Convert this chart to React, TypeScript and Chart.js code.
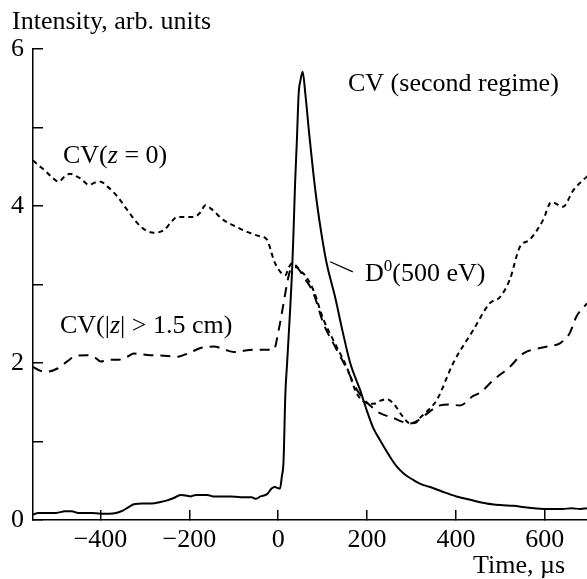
import React, { useEffect, useRef } from "react";
import { Chart, registerables } from "chart.js";

Chart.register(...registerables);

// ---------- data ----------
const d0Time = [
  -552, -540, -500, -480, -465, -450, -420, -400, -380, -365, -350, -335, -325, -305, -285, -265,
  -250, -235, -220, -205, -198, -185, -160, -146, -120, -108, -85, -60, -50, -40, -25, -15, -8, 4,
  8, 12, 16, 20, 26, 31, 34, 38, 42, 46, 50, 55, 61, 70, 79, 88, 98, 109, 128, 145, 162, 184, 199,
  214, 229, 250, 267, 285, 304, 320, 342, 370, 401, 430, 469, 500, 529, 560, 604, 640, 660, 680, 695,
];
const d0Value = [
  0.07, 0.09, 0.09, 0.11, 0.11, 0.09, 0.09, 0.08, 0.08, 0.09, 0.12, 0.17, 0.2, 0.21, 0.21, 0.23,
  0.25, 0.28, 0.32, 0.31, 0.3, 0.32, 0.32, 0.3, 0.3, 0.3, 0.29, 0.29, 0.27, 0.3, 0.33, 0.4, 0.42, 0.4,
  0.55, 0.76, 1.6, 2.0, 2.6, 3.15, 3.6, 4.3, 4.84, 5.43, 5.6, 5.71, 5.43, 4.9, 4.42, 4.0, 3.62, 3.27, 2.84, 2.4, 2.0, 1.66, 1.4,
  1.17, 1.02, 0.82, 0.68, 0.58, 0.51, 0.46, 0.42, 0.36, 0.3, 0.26, 0.21, 0.19, 0.18, 0.16, 0.14, 0.14, 0.15, 0.14, 0.15,
];

const cvCenterTime = [
  -552, -540, -527, -510, -494, -480, -468, -455, -445, -426, -412, -400, -385, -362, -340, -320,
  -310, -295, -280, -258, -240, -228, -210, -190, -175, -164, -150, -123, -100, -70, -45, -25, -15,
  -10, 0, 10, 16, 24, 31, 40, 49, 60, 79, 102, 124, 154, 177, 199, 215, 230, 244, 260, 280, 297,
  310, 319, 334, 357, 394, 439, 476, 499, 521, 544, 566, 596, 615, 641, 664, 686, 700,
];
const cvCenterValue = [
  4.58, 4.52, 4.46, 4.37, 4.31, 4.38, 4.41, 4.38, 4.35, 4.27, 4.3, 4.31, 4.25, 4.12, 3.95, 3.8,
  3.74, 3.68, 3.66, 3.69, 3.8, 3.86, 3.86, 3.86, 3.92, 4.01, 3.96, 3.82, 3.75, 3.67, 3.62, 3.57, 3.4,
  3.31, 3.2, 3.13, 3.12, 3.22, 3.27, 3.24, 3.18, 3.12, 2.93, 2.55, 2.29, 1.95, 1.61, 1.49, 1.48, 1.52, 1.54, 1.48, 1.32, 1.23,
  1.24, 1.3, 1.38, 1.53, 2.0, 2.42, 2.76, 2.84, 3.06, 3.48, 3.57, 3.82, 4.05, 3.99, 4.2, 4.33, 4.4,
];

const cvOuterTime = [
  -552, -535, -520, -497, -475, -460, -430, -410, -400, -380, -362, -340, -325, -288, -250, -228,
  -200, -175, -145, -120, -100, -55, -10, 1, 12, 23, 31, 40, 57, 79, 102, 124, 154, 177, 199, 215,
  229, 259, 280, 297, 315, 327, 345, 364, 385, 409, 439, 454, 484, 521, 551, 589, 615, 634, 656, 671, 695,
];
const cvOuterValue = [
  1.95, 1.9, 1.89, 1.93, 2.02, 2.08, 2.1, 2.06, 2.02, 2.04, 2.04, 2.08, 2.12, 2.1, 2.09, 2.08,
  2.13, 2.19, 2.21, 2.17, 2.14, 2.17, 2.17, 2.42, 2.76, 3.1, 3.22, 3.22, 3.1, 2.89, 2.5, 2.25, 1.93, 1.66, 1.5, 1.42,
  1.36, 1.3, 1.25, 1.23, 1.27, 1.32, 1.4, 1.46, 1.47, 1.46, 1.58, 1.62, 1.78, 1.95, 2.12, 2.19, 2.22, 2.25, 2.38, 2.59, 2.76,
];

const xTickValues = [-400, -200, 0, 200, 400, 600];
const yTickValues = [0, 1, 2, 3, 4, 5, 6];
const yLabelledTicks = [0, 2, 4, 6];

const X_MIN = -552;
const X_MAX = 695;
const Y_MIN = 0;
const Y_MAX = 6;

// leader line of the D0 label, in data units
const leaderFrom = { x: 117, y: 3.29 };
const leaderTo = { x: 168, y: 3.16 };

const FONT = "'Liberation Serif', 'Times New Roman', Times, serif";
const FONT_SIZE = 26;

type Part = { t: string; italic?: boolean; sup?: boolean };
type Label = { x: number; y: number; parts: Part[] };

const textLabels: Label[] = [
  { x: 12, y: 29, parts: [{ t: "Intensity, arb. units" }] },
  { x: 348, y: 91, parts: [{ t: "CV (second regime)" }] },
  { x: 63, y: 163, parts: [{ t: "CV(" }, { t: "z", italic: true }, { t: " = 0)" }] },
  { x: 60, y: 333, parts: [{ t: "CV(|" }, { t: "z", italic: true }, { t: "| > 1.5 cm)" }] },
  { x: 365, y: 281, parts: [{ t: "D" }, { t: "0", sup: true }, { t: "(500 eV)" }] },
  { x: 473, y: 573, parts: [{ t: "Time, \u00b5s" }] },
];

function drawParts(ctx: CanvasRenderingContext2D, x: number, y: number, parts: Part[]) {
  let cx = x;
  for (const p of parts) {
    const fs = p.sup ? Math.round(FONT_SIZE * 0.66) : FONT_SIZE;
    ctx.font = `${p.italic ? "italic " : ""}${fs}px ${FONT}`;
    ctx.fillText(p.t, cx, p.sup ? y - FONT_SIZE * 0.4 : y);
    cx += ctx.measureText(p.t).width;
  }
}

const annotationPlugin = {
  id: "annotations",
  afterDraw(chart: any) {
    const ctx: CanvasRenderingContext2D = chart.ctx;
    const xs = chart.scales.x;
    const ys = chart.scales.y;
    ctx.save();
    ctx.strokeStyle = "#000";
    ctx.lineWidth = 1.3;
    ctx.beginPath();
    ctx.moveTo(xs.getPixelForValue(leaderFrom.x), ys.getPixelForValue(leaderFrom.y));
    ctx.lineTo(xs.getPixelForValue(leaderTo.x), ys.getPixelForValue(leaderTo.y));
    ctx.stroke();
    ctx.fillStyle = "#000";
    ctx.textAlign = "left";
    ctx.textBaseline = "alphabetic";
    for (const l of textLabels) drawParts(ctx, l.x, l.y, l.parts);
    ctx.restore();
  },
};

const toPoints = (t: number[], v: number[]) => t.map((x, i) => ({ x, y: v[i] }));

export default function App() {
  const canvasRef = useRef<HTMLCanvasElement | null>(null);

  useEffect(() => {
    if (!canvasRef.current) return;
    const chart = new Chart(canvasRef.current, {
      type: "line",
      data: {
        datasets: [
          {
            label: "D0(500 eV)",
            data: toPoints(d0Time, d0Value),
            borderColor: "#000",
            borderWidth: 2,
            pointRadius: 0,
            cubicInterpolationMode: "monotone",
            fill: false,
          },
          {
            label: "CV(z = 0)",
            data: toPoints(cvCenterTime, cvCenterValue),
            borderColor: "#000",
            borderWidth: 2,
            borderDash: [5, 4],
            pointRadius: 0,
            cubicInterpolationMode: "monotone",
            fill: false,
          },
          {
            label: "CV(|z| > 1.5 cm)",
            data: toPoints(cvOuterTime, cvOuterValue),
            borderColor: "#000",
            borderWidth: 2,
            borderDash: [10, 7],
            pointRadius: 0,
            cubicInterpolationMode: "monotone",
            fill: false,
          },
        ],
      },
      options: {
        animation: false,
        responsive: true,
        maintainAspectRatio: false,
        layout: { padding: { top: 49, right: 0, left: 0, bottom: 0 } },
        plugins: { legend: { display: false }, tooltip: { enabled: false } },
        scales: {
          x: {
            type: "linear",
            min: X_MIN,
            max: X_MAX,
            afterBuildTicks: (s: any) => {
              s.ticks = xTickValues.map((value) => ({ value }));
            },
            afterFit: (s: any) => {
              s.height = 59;
            },
            border: { display: true, color: "#000", width: 1.5 },
            grid: { drawOnChartArea: false, drawTicks: true, tickLength: -10, color: "#000", lineWidth: 1.5 },
            ticks: {
              color: "#000",
              font: { family: FONT, size: FONT_SIZE },
              padding: 15,
              maxRotation: 0,
              autoSkip: false,
              callback: (v: any) => (Number(v) < 0 ? "\u2212" + Math.abs(Number(v)) : String(v)),
            },
          },
          y: {
            type: "linear",
            min: Y_MIN,
            max: Y_MAX,
            afterBuildTicks: (s: any) => {
              s.ticks = yTickValues.map((value) => ({ value }));
            },
            afterFit: (s: any) => {
              s.width = 33;
            },
            border: { display: true, color: "#000", width: 1.5 },
            grid: { drawOnChartArea: false, drawTicks: true, tickLength: -10, color: "#000", lineWidth: 1.5 },
            ticks: {
              color: "#000",
              font: { family: FONT, size: FONT_SIZE },
              padding: 19,
              autoSkip: false,
              callback: (v: any) => (yLabelledTicks.includes(Number(v)) ? String(v) : ""),
            },
          },
        },
      },
      plugins: [annotationPlugin],
    } as any);
    return () => chart.destroy();
  }, []);

  return (
    <div style={{ position: "fixed", left: 0, top: 0, width: 587, height: 579, background: "#fff" }}>
      <canvas ref={canvasRef} />
    </div>
  );
}
